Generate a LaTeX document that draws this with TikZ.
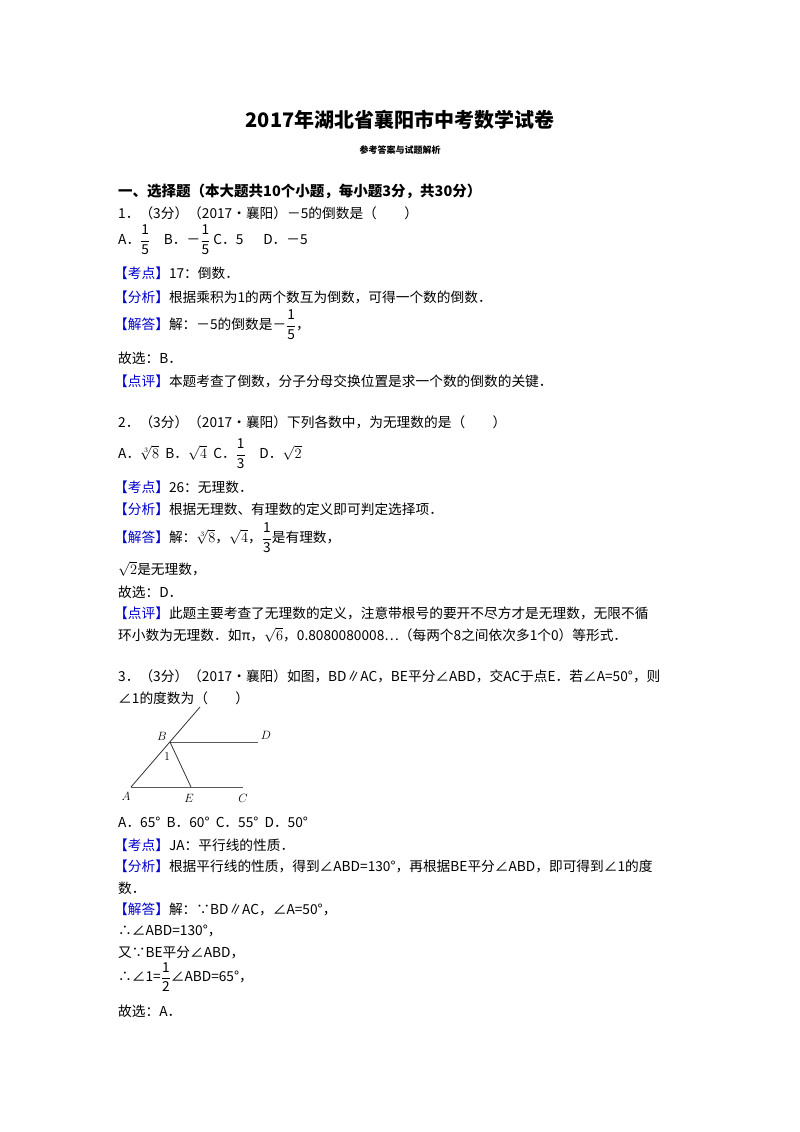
\documentclass[tikz,border=0pt]{standalone}
\usepackage{amsmath}
\usepackage{fontspec}
\setmainfont{Noto Sans CJK SC}
\begin{document}
\begin{tikzpicture}[x=1pt,y=-1pt,
  t/.style={anchor=west,inner sep=0pt,font=\fontsize{13.7}{16}\selectfont},
  lbl/.style={inner sep=0pt,font=\fontsize{13}{14}\selectfont}]
\fill[white] (0,0) rectangle (800,1132);
\newcommand{\tg}[1]{\textcolor{blue!80!black}{【#1】}}
\newcommand{\fr}[2]{\dfrac{\text{#1}}{\text{#2}}}
\node[inner sep=0pt,font=\fontsize{20}{22}\selectfont\bfseries] (title) at (400,120) {2017年湖北省襄阳市中考数学试卷};
\node[inner sep=0pt,font=\fontsize{9}{11}\selectfont\bfseries] (sub) at (400,150) {参考答案与试题解析};
\node[t,font=\fontsize{14.5}{16}\selectfont\bfseries] (s1) at (118,191) {一、选择题（本大题共10个小题，每小题3分，共30分）};
\node[t] (q1) at (118,213) {1．（3分）（2017•襄阳）－5的倒数是（\quad\quad）};
\node[t] (o1) at (118,240) {A．$\fr{1}{5}$\quad B．－$\fr{1}{5}$ C．5\quad\ \ D．－5};
\node[t] (k1) at (114,273) {\tg{考点}17：倒数．};
\node[t] (f1) at (114,297) {\tg{分析}根据乘积为1的两个数互为倒数，可得一个数的倒数．};
\node[t] (j1) at (114,325) {\tg{解答}解：－5的倒数是－$\fr{1}{5}$，};
\node[t] (g1) at (118,358) {故选：B．};
\node[t] (p1) at (114,381) {\tg{点评}本题考查了倒数，分子分母交换位置是求一个数的倒数的关键．};
\node[t] (q2) at (118,422) {2．（3分）（2017•襄阳）下列各数中，为无理数的是（\quad\quad）};
\node[t] (o2) at (118,454) {A．$\sqrt[3]{8}$\ \ B．$\sqrt{4}$\ \ C．$\fr{1}{3}$\quad D．$\sqrt{2}$};
\node[t] (k2) at (114,487) {\tg{考点}26：无理数．};
\node[t] (f2) at (114,509) {\tg{分析}根据无理数、有理数的定义即可判定选择项．};
\node[t] (j2) at (114,538) {\tg{解答}解：$\sqrt[3]{8}$，$\sqrt{4}$，$\fr{1}{3}$是有理数，};
\node[t] (r2) at (118,569) {$\sqrt{2}$是无理数，};
\node[t] (g2) at (118,592) {故选：D．};
\node[t] (p2) at (114,613) {\tg{点评}此题主要考查了无理数的定义，注意带根号的要开不尽方才是无理数，无限不循};
\node[t] (p2b) at (118,635) {环小数为无理数．如π，$\sqrt{6}$，0.8080080008…（每两个8之间依次多1个0）等形式．};
\node[t] (q3) at (118,676) {3．（3分）（2017•襄阳）如图，BD∥AC，BE平分∠ABD，交AC于点E．若∠A=50°，则};
\node[t] (q3b) at (118,698) {∠1的度数为（\quad\quad）};
% figure
\coordinate (top) at (200,707);
\coordinate (B) at (170,742);
\coordinate (A) at (131,787);
\coordinate (D) at (258,742);
\coordinate (E) at (191,787);
\coordinate (C) at (243,787);
\draw[line width=0.8pt,gray!40!black] (A) -- (top);
\draw[line width=1pt,gray!70!black] (B) -- (D);
\draw[line width=1pt,gray!70!black] (A) -- (C);
\draw[line width=0.8pt,gray!40!black] (B) -- (E);
\node[lbl] (lB) at (162,736) {$B$};
\node[lbl] (lD) at (266,735) {$D$};
\node[lbl] (l1) at (167,757) {$1$};
\node[lbl] (lA) at (126,796) {$A$};
\node[lbl] (lE) at (189,798) {$E$};
\node[lbl] (lC) at (243,798) {$C$};
\node[t] (o3) at (118,822) {A．65°\ \ B．60°\ \ C．55°\ \ D．50°};
\node[t] (k3) at (114,845) {\tg{考点}JA：平行线的性质．};
\node[t] (f3) at (114,866) {\tg{分析}根据平行线的性质，得到∠ABD=130°，再根据BE平分∠ABD，即可得到∠1的度};
\node[t] (f3b) at (118,888) {数．};
\node[t] (j3) at (114,909) {\tg{解答}解：∵BD∥AC，∠A=50°，};
\node[t] (j3b) at (118,931) {∴∠ABD=130°，};
\node[t] (j3c) at (118,953) {又∵BE平分∠ABD，};
\node[t] (j3d) at (118,977) {∴∠1=$\fr{1}{2}$∠ABD=65°，};
\node[t] (g3) at (118,1011) {故选：A．};
\end{tikzpicture}
\end{document}
